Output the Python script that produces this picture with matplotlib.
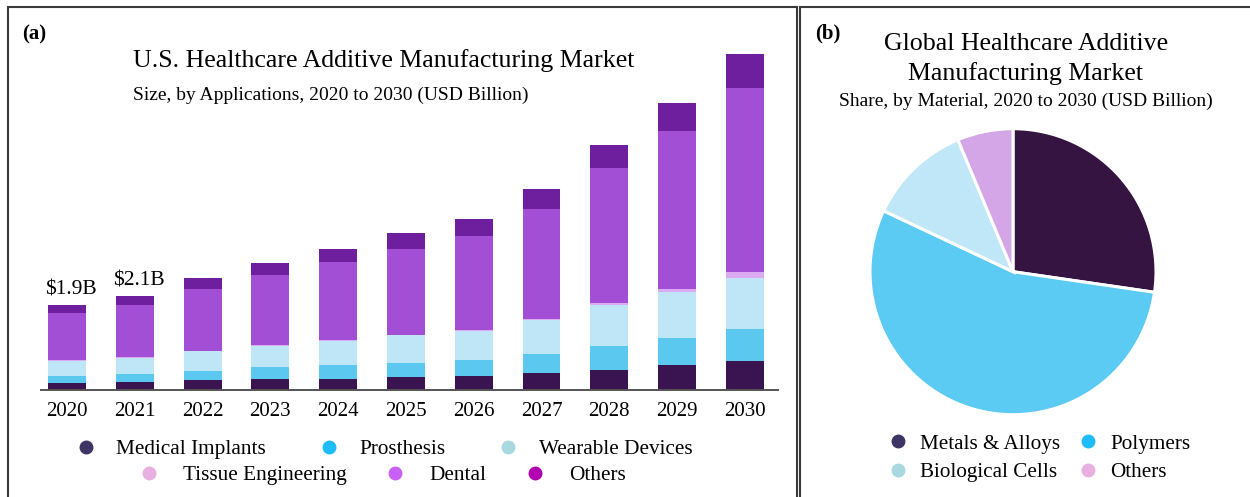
import numpy as np
import matplotlib
matplotlib.use("Agg")
import matplotlib.pyplot as plt
from matplotlib.lines import Line2D
from matplotlib.patches import Rectangle

plt.rcParams['font.family'] = ['Liberation Serif', 'DejaVu Serif']

# ---- panel (a): U.S. market size by application, USD billion ----
years = ["2020", "2021", "2022", "2023", "2024", "2025", "2026", "2027", "2028", "2029", "2030"]
medical_implants   = [0.14, 0.17, 0.21, 0.23, 0.25, 0.28, 0.31, 0.38, 0.45, 0.55, 0.64]
prosthesis         = [0.17, 0.18, 0.21, 0.27, 0.30, 0.33, 0.36, 0.43, 0.54, 0.62, 0.73]
wearable_devices   = [0.33, 0.37, 0.44, 0.49, 0.54, 0.61, 0.66, 0.75, 0.91, 1.03, 1.15]
tissue_engineering = [0.02, 0.02, 0.02, 0.02, 0.02, 0.02, 0.02, 0.03, 0.04, 0.07, 0.13]
dental             = [1.06, 1.16, 1.39, 1.57, 1.75, 1.93, 2.10, 2.47, 3.05, 3.55, 4.13]
others_app         = [0.18, 0.20, 0.25, 0.27, 0.31, 0.35, 0.39, 0.45, 0.52, 0.63, 0.77]
labelled_years = [0, 1]

app_names = ["Medical Implants", "Prosthesis", "Wearable Devices",
             "Tissue Engineering", "Dental", "Others"]
bar_colors = ["#3a1450", "#5bc8f0", "#bfe6f7", "#dcaaf0", "#a24fd6", "#6e1f9e"]
app_marker_colors = ["#3e3565", "#1ebcfa", "#a8d8e0", "#e8b0e0", "#c860f5", "#b000b0"]

# ---- panel (b): global share by material ----
materials = ["Metals & Alloys", "Polymers", "Biological Cells", "Others"]
material_share = [27.3, 54.7, 11.7, 6.3]
pie_colors = ["#361441", "#5ccbf3", "#bfe7f7", "#d4a6e8"]
mat_marker_colors = ["#3e3565", "#1ebcfa", "#a8d8e0", "#e8b0e0"]

W, H = 1250, 497
fig = plt.figure(figsize=(W / 100, H / 100), dpi=100)

# panel frames
for x0, x1 in [(8, 797), (800, 1260)]:
    fig.add_artist(Rectangle((x0 / W, -0.05), (x1 - x0) / W, 1.05 - 7 / H,
                             transform=fig.transFigure, fill=False,
                             edgecolor="#3a3a3a", linewidth=1.5))

# stacked bars
ax = fig.add_axes([40.7 / W, 107.3 / H, 737.3 / W, 349.7 / H])
x = np.arange(len(years))
series = [medical_implants, prosthesis, wearable_devices,
          tissue_engineering, dental, others_app]
bottom = np.zeros(len(years))
for vals, col, name in zip(series, bar_colors, app_names):
    ax.bar(x, vals, width=0.56, bottom=bottom, color=col, label=name, linewidth=0)
    bottom += np.array(vals)

for i in labelled_years:
    ax.annotate(f"\\${bottom[i]:.1f}B", (x[i], bottom[i]), xytext=(3, 4),
                textcoords="offset points", ha="center", va="bottom", fontsize=15.5)

ax.set_xlim(-0.39, 10.49)
ax.set_ylim(0, 7.86)
ax.set_xticks(x)
ax.set_xticklabels(years, fontsize=15)
ax.tick_params(axis="x", length=0, pad=9)
ax.set_yticks([])
for s in ["top", "right", "left"]:
    ax.spines[s].set_visible(False)
ax.spines["bottom"].set_color("#555555")
ax.spines["bottom"].set_linewidth(1.4)

fig.text(22 / W, 1 - 34 / H, "(a)", fontsize=15, fontweight="bold", va="center")
fig.text(133 / W, 1 - 61 / H, "U.S. Healthcare Additive Manufacturing Market",
         fontsize=18.6, va="center")
fig.text(133 / W, 1 - 95 / H, "Size, by Applications, 2020 to 2030 (USD Billion)",
         fontsize=14, va="center")

def dots(colors, names):
    return [Line2D([0], [0], marker="o", linestyle="none", markersize=9,
                   markerfacecolor=c, markeredgecolor=c, label=n)
            for c, n in zip(colors, names)]

h_app = dots(app_marker_colors, app_names)
fig.legend(handles=h_app[:3], ncol=3, loc="center", bbox_to_anchor=(386 / W, 1 - 449 / H),
           frameon=False, fontsize=15.3, handlelength=0.6, handletextpad=1.15,
           columnspacing=2.65, borderpad=0)
fig.legend(handles=h_app[3:], ncol=3, loc="center", bbox_to_anchor=(384 / W, 1 - 475 / H),
           frameon=False, fontsize=15.3, handlelength=0.6, handletextpad=1.3,
           columnspacing=2.0, borderpad=0)

# pie
r = 143
cx, cy = 1013, 271.7
pax = fig.add_axes([(cx - r) / W, (H - cy - r) / H, 2 * r / W, 2 * r / H])
pax.pie(material_share, colors=pie_colors, startangle=90, counterclock=False,
        wedgeprops=dict(edgecolor="white", linewidth=2.2))
pax.set_xlim(-1, 1)
pax.set_ylim(-1, 1)

fig.text(815 / W, 1 - 33 / H, "(b)", fontsize=15, fontweight="bold", va="center")
fig.text(1026 / W, 1 - 44 / H, "Global Healthcare Additive", fontsize=18.6,
         ha="center", va="center")
fig.text(1026 / W, 1 - 74 / H, "Manufacturing Market", fontsize=18.6,
         ha="center", va="center")
fig.text(1026 / W, 1 - 101 / H, "Share, by Material, 2020 to 2030 (USD Billion)",
         fontsize=14, ha="center", va="center")

h_mat = dots(mat_marker_colors, materials)
order = [0, 2, 1, 3]
fig.legend(handles=[h_mat[i] for i in order], ncol=2, loc="center",
           bbox_to_anchor=(1041 / W, 1 - 458 / H), frameon=False, fontsize=15.2,
           handlelength=0.6, handletextpad=0.75, columnspacing=1.0,
           labelspacing=0.4, borderpad=0)

fig.savefig("out.png", dpi=100)
